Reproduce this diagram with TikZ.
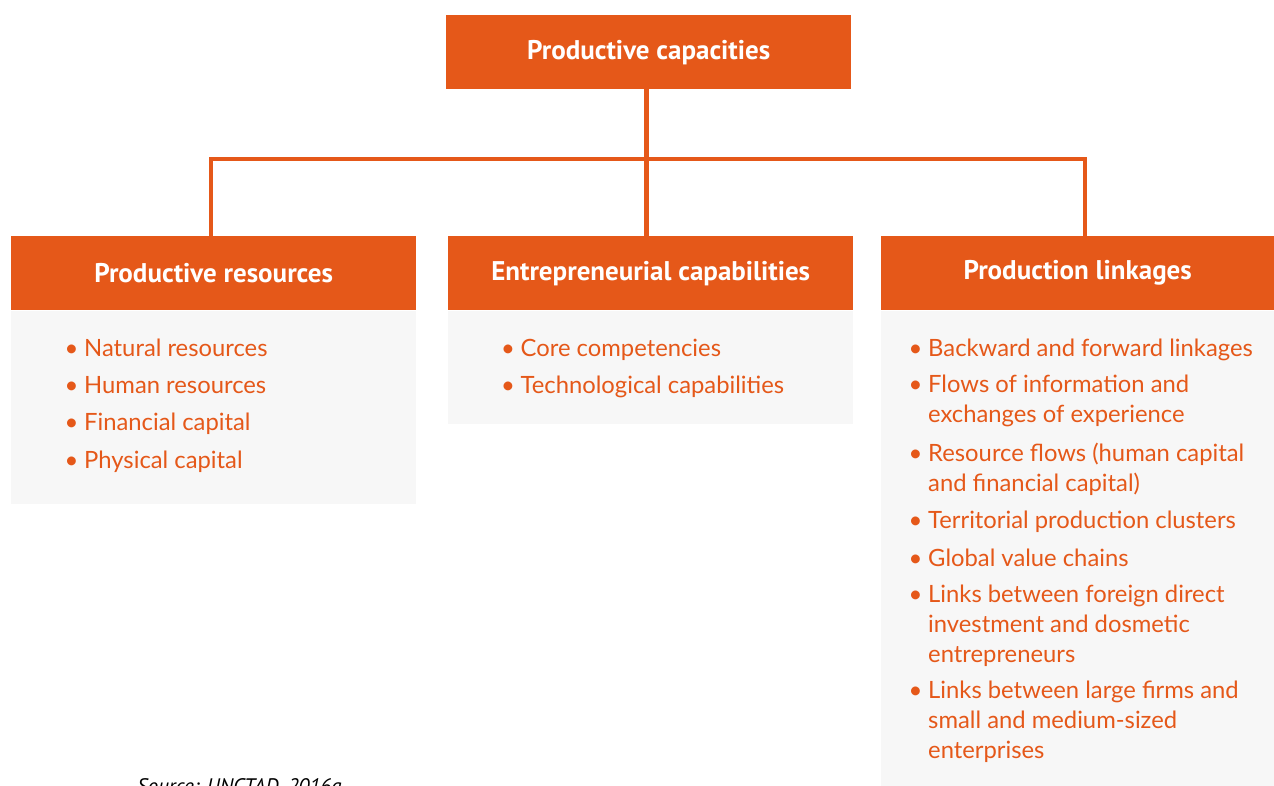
\documentclass[tikz,border=0pt]{standalone}
\usepackage{fontspec}
\setmainfont{Lato}
\newfontfamily\hfont{PT Sans}
\definecolor{orng}{RGB}{229,88,25}
\definecolor{pale}{RGB}{247,247,247}
\begin{document}
\begin{tikzpicture}[x=1pt,y=1pt,
  hdr/.style={fill=orng, text=white, font=\hfont\bfseries\fontsize{27}{31}\selectfont, minimum height=74pt, inner sep=0pt, anchor=north west},
  bodybox/.style={fill=pale, inner sep=0pt, anchor=north west},
  item/.style={text=orng, font=\fontsize{23.8}{29.7}\selectfont, align=left, inner sep=0pt, anchor=base west},
  conn/.style={draw=orng, line width=4.5pt}
]
\useasboundingbox (0,0) rectangle (1274,-786);
% headers
\node[hdr, minimum width=405pt] (top) at (446,-15) {Productive capacities};
\node[hdr, minimum width=405pt] (h1) at (11,-236) {Productive resources};
\node[hdr, minimum width=405pt] (h2) at (448,-236) {Entrepreneurial capabilities};
\node[hdr, minimum width=393pt] (h3) at (881,-236) {Production linkages};
% bodies
\node[bodybox, minimum width=405pt, minimum height=193pt] (b1) at (h1.south west) {};
\node[bodybox, minimum width=405pt, minimum height=113pt] (b2) at (h2.south west) {};
\node[bodybox, minimum width=393pt, minimum height=476pt] (b3) at (h3.south west) {};
% connectors
\coordinate (j) at ([xshift=-2pt]top.south |- 0,-159);
\draw[conn] ([xshift=-2pt]top.south) -- ([xshift=-2pt]top.south |- h2.north);
\draw[conn] ([xshift=-2.5pt]h1.north) |- (j) -| ([xshift=7.5pt]h3.north);
% items (anchor = baseline of the last line)
\newcommand\bl{\makebox[19.5pt][l]{•}}
\newcommand\ind{\hspace*{19.5pt}}
\node[item] (l1) at (64.5,-356) {\bl Natural resources};
\node[item] (l2) at (64.5,-393) {\bl Human resources};
\node[item] (l3) at (64.5,-430) {\bl Financial capital};
\node[item] (l4) at (64.5,-468) {\bl Physical capital};
% items middle
\node[item] (m1) at (501,-356) {\bl Core competencies};
\node[item] (m2) at (501,-393) {\bl Technological capabilities};
% items right
\node[item] (r1) at (908.5,-356) {\bl Backward and forward linkages};
\node[item] (r2) at (908.5,-422) {\bl Flows of information and\\\ind exchanges of experience};
\node[item] (r3) at (908.5,-491) {\bl Resource flows (human capital\\\ind and financial capital)};
\node[item] (r4) at (908.5,-528) {\bl Territorial production clusters};
\node[item] (r5) at (908.5,-566) {\bl Global value chains};
\node[item] (r6) at (908.5,-662) {\bl Links between foreign direct\\\ind investment and dosmetic\\\ind entrepreneurs};
\node[item] (r7) at (908.5,-758) {\bl Links between large firms and\\\ind small and medium-sized\\\ind enterprises};
% source
\node[font=\hfont\itshape\fontsize{21}{25}\selectfont, anchor=base west, inner sep=0pt] (src) at (137,-793) {Source: UNCTAD, 2016a.};
\end{tikzpicture}
\end{document}
